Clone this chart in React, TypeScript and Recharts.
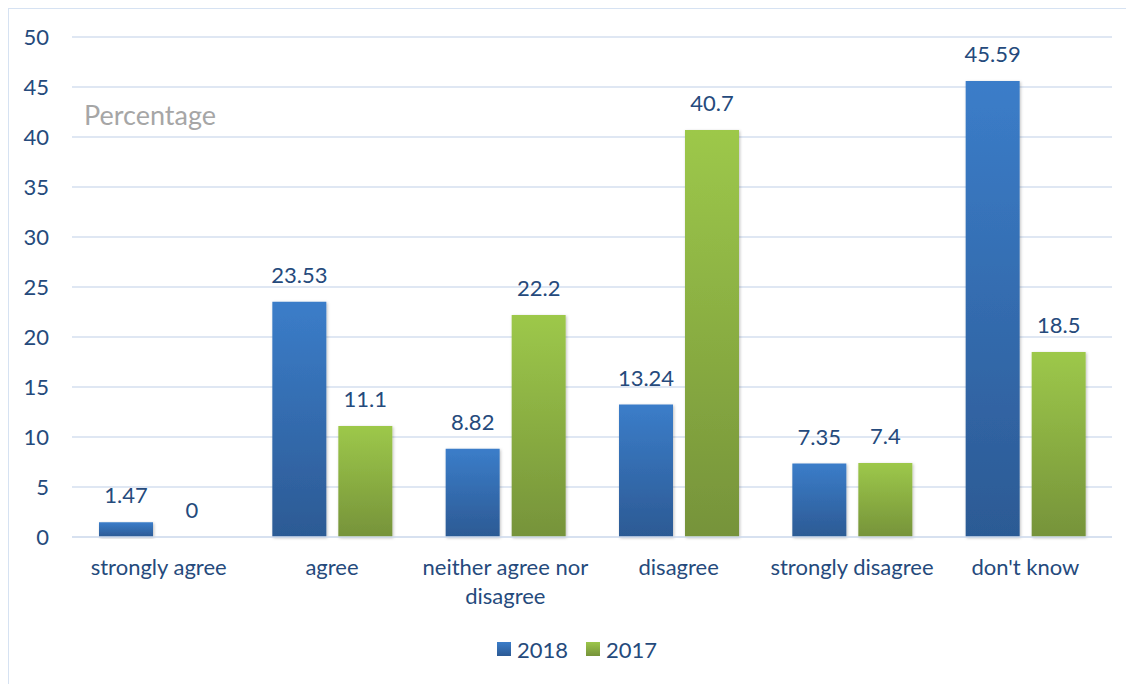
import React from "react";
import { BarChart, Bar, XAxis, YAxis, CartesianGrid, Legend, LabelList } from "recharts";

const categories = ["strongly agree", "agree", "neither agree nor disagree", "disagree", "strongly disagree", "don't know"];
const values2018 = [1.47, 23.53, 8.82, 13.24, 7.35, 45.59];
const values2017 = [0, 11.1, 22.2, 40.7, 7.4, 18.5];
const yTicks = [0, 5, 10, 15, 20, 25, 30, 35, 40, 45, 50];
const seriesNames = ["2018", "2017"];

const data = categories.map((name, i) => ({ name, y2018: values2018[i], y2017: values2017[i] }));

const FONT = "Lato, 'Open Sans', sans-serif";
const TEXT = "#254a7c";
const GRID = "#d5dfef";
const FS = 22;

const wrap = (s: string, max: number) => {
  const words = s.split(" ");
  const lines: string[] = [];
  let cur = "";
  words.forEach((w) => {
    const t = cur ? cur + " " + w : w;
    if (t.length > max && cur) {
      lines.push(cur);
      cur = w;
    } else cur = t;
  });
  if (cur) lines.push(cur);
  return lines;
};

const XTick = (props: any) => {
  const { x, y, payload } = props;
  const lines = wrap(String(payload.value), 18);
  return (
    <text x={x} y={y + 38} textAnchor="middle" fill={TEXT} fontSize={FS} fontFamily={FONT}>
      {lines.map((l, i) => (
        <tspan key={i} x={x} dy={i === 0 ? 0 : 29}>{l}</tspan>
      ))}
    </text>
  );
};

const ValueLabel = (props: any) => {
  const { x, y, width, value } = props;
  if (value === undefined || value === null) return null;
  return (
    <text x={Number(x) + Number(width) / 2} y={Number(y) - 19} textAnchor="middle" fill={TEXT} fontSize={FS} fontFamily={FONT}>
      {value}
    </text>
  );
};

const LegendContent = () => (
  <div style={{ height: 26, display: "flex", justifyContent: "center", alignItems: "center", fontFamily: FONT, fontSize: FS, color: TEXT, paddingLeft: 10 }}>
    <span style={{ display: "inline-block", width: 14, height: 14, background: "linear-gradient(#3b7dc9,#2c5a94)", marginRight: 6 }} />
    <span style={{ marginRight: 18 }}>{seriesNames[0]}</span>
    <span style={{ display: "inline-block", width: 14, height: 14, background: "linear-gradient(#9cc64b,#76933a)", marginRight: 6 }} />
    <span>{seriesNames[1]}</span>
  </div>
);

export default function App() {
  return (
    <div style={{ position: "relative", width: 1124, height: 690, border: "1px solid #d6e2f2", fontFamily: FONT }}>
      <BarChart width={1124} height={675} data={data} margin={{ top: 28, right: 21, left: 23, bottom: 22 }}
        barSize={54} barGap={12}>
        <defs>
          <linearGradient id="gBlue" x1="0" y1="0" x2="0" y2="1">
            <stop offset="0%" stopColor="#3b7dc9" />
            <stop offset="100%" stopColor="#2c5a94" />
          </linearGradient>
          <linearGradient id="gGreen" x1="0" y1="0" x2="0" y2="1">
            <stop offset="0%" stopColor="#9dc84a" />
            <stop offset="100%" stopColor="#76933a" />
          </linearGradient>
          <filter id="shadow" x="-20%" y="-5%" width="140%" height="115%">
            <feDropShadow dx="1" dy="1" stdDeviation="1.5" floodColor="#000" floodOpacity="0.25" />
          </filter>
        </defs>
        <CartesianGrid vertical={false} stroke={GRID} strokeWidth={1.5} />
        <XAxis dataKey="name" axisLine={{ stroke: GRID, strokeWidth: 1.5 }} tickLine={false} tickSize={0} tickMargin={0}
          height={99} interval={0} tick={<XTick />} />
        <YAxis domain={[0, 50]} ticks={yTicks} axisLine={false} tickLine={false} tickSize={0} tickMargin={23} width={40}
          tick={{ fill: TEXT, fontSize: FS, fontFamily: FONT }} />
        <Legend verticalAlign="bottom" content={<LegendContent />} />
        <Bar dataKey="y2018" name={seriesNames[0]} fill="url(#gBlue)" filter="url(#shadow)" isAnimationActive={false}>
          <LabelList dataKey="y2018" content={<ValueLabel />} />
        </Bar>
        <Bar dataKey="y2017" name={seriesNames[1]} fill="url(#gGreen)" filter="url(#shadow)" minPointSize={0.01} isAnimationActive={false}>
          <LabelList dataKey="y2017" content={<ValueLabel />} />
        </Bar>
      </BarChart>
      <div style={{ position: "absolute", left: 75, top: 91, fontSize: 27, color: "#a6a6a6", fontFamily: FONT, lineHeight: "30px" }}>
        Percentage
      </div>
    </div>
  );
}
